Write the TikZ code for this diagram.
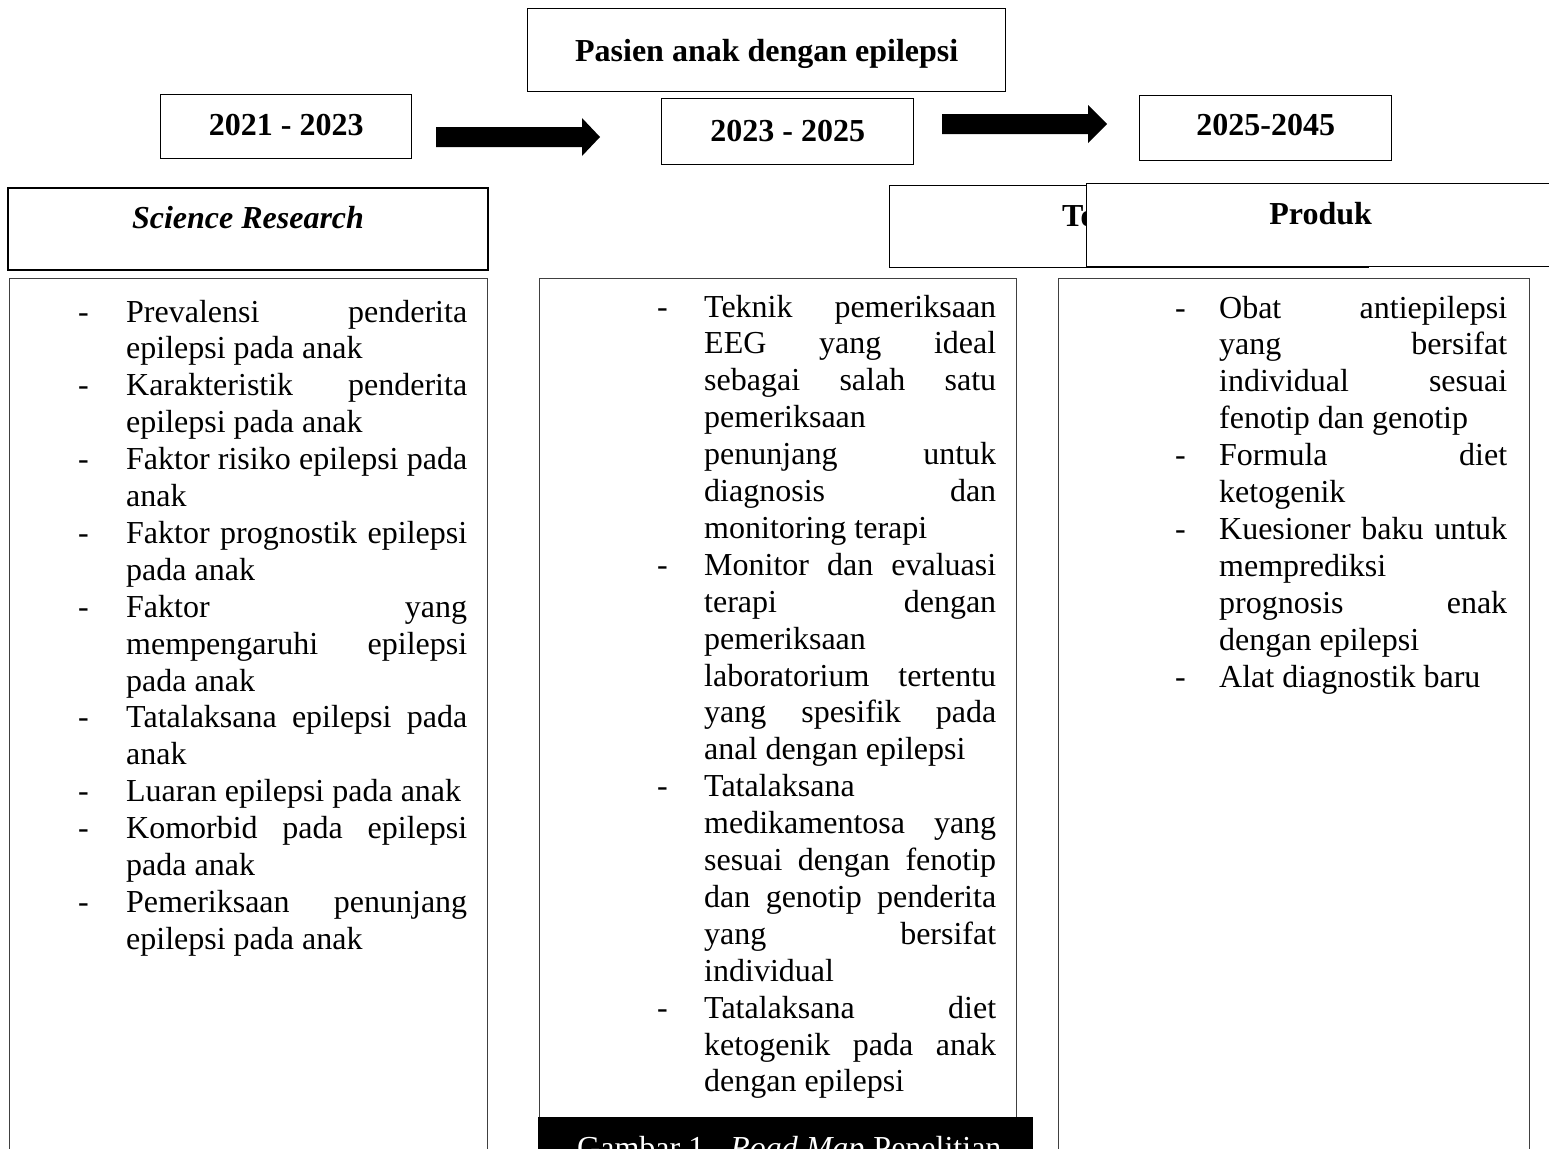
\documentclass[tikz,border=0pt]{standalone}
\usepackage{fontspec}
\setmainfont{Liberation Serif}
\usetikzlibrary{positioning}
\newcommand\txtsize{\fontsize{32}{36.9}\selectfont}
\newlength\colw
\newlength\dashw
\newcommand\dashj[1]{\hbox{\hbox to\dashw{-\hfil}\hbox to\colw{\spaceskip=.25em plus 1fil minus .05em\relax #1}}}
\newcommand\dashl[1]{\hbox{\hbox to\dashw{-\hfil}\hbox to\colw{#1\hfil}}}
\newcommand\contj[1]{\hbox{\hskip\dashw\hbox to\colw{\spaceskip=.25em plus 1fil minus .05em\relax #1}}}
\newcommand\contl[1]{\hbox{\hskip\dashw\hbox to\colw{#1\hfil}}}
\tikzset{
    hdr/.style={
    rectangle,draw=black,fill=white,line width=1.4pt,inner sep=0pt,anchor=north west,font=\txtsize\bfseries
    },
    colbox/.style={
    rectangle,draw=black!75,line width=1.4pt,inner sep=0pt,anchor=north west
    },
    coltxt/.style={
    inner sep=0pt,anchor=base west,font=\txtsize
    },
    blockarr/.style={
    fill=black
    },
}
\begin{document}
\begin{tikzpicture}[x=1pt,y=-1pt]
   \useasboundingbox (0,0) rectangle (1549,1148);
   \clip (0,0) rectangle (1549,1148);
   % top row
   \node[hdr,minimum width=478pt,text height=53pt,text depth=30pt] (pasien) at (527,8) {Pasien anak dengan epilepsi};
   \node[hdr,minimum width=251pt,text height=41pt,text depth=23pt] (yr1) at (160,94) {2021 - 2023};
   \node[hdr,minimum width=252pt,text height=43pt,text depth=23pt] (yr2) at (661,98) {2023 - 2025};
   \node[hdr,minimum width=252pt,text height=40pt,text depth=25pt] (yr3) at (1139,95) {2025-2045};
   \fill[blockarr] (436,127) -- (582,127) -- (582,118) -- (600,137) -- (582,156) -- (582,147) -- (436,147) -- cycle;
   \fill[blockarr] (942,114) -- (1088,114) -- (1088,105) -- (1107,124) -- (1088,143) -- (1088,134) -- (942,134) -- cycle;
   % headings
   \node[hdr,line width=2pt,minimum width=480pt,text height=40pt,text depth=42pt] (science) at (7,187) {\textit{Science Research}};
   \node[hdr,minimum width=479pt,text height=41pt,text depth=41pt] (tekno) at (889,185) {Teknologi};
   \node[hdr,minimum width=468pt,text height=41pt,text depth=42pt] (produk) at (1086,183) {Produk};
   % columns
   \node[colbox,minimum width=478pt,minimum height=890pt] (leftbox) at (9,278) {};
   \node[colbox,minimum width=477pt,minimum height=850pt] (midbox) at (539,278) {};
   \node[colbox,minimum width=471pt,minimum height=890pt] (rightbox) at (1058,278) {};
   \node[coltxt] (lefttxt) at (78,322) {\setlength\dashw{48pt}\setlength\colw{341pt}\vtop{\baselineskip=36.9pt\lineskiplimit=-100pt
      \dashj{Prevalensi penderita}
      \contl{epilepsi pada anak}
      \dashj{Karakteristik penderita}
      \contl{epilepsi pada anak}
      \dashj{Faktor risiko epilepsi pada}
      \contl{anak}
      \dashj{Faktor prognostik epilepsi}
      \contl{pada anak}
      \dashj{Faktor yang}
      \contj{mempengaruhi epilepsi}
      \contl{pada anak}
      \dashj{Tatalaksana epilepsi pada}
      \contl{anak}
      \dashl{Luaran epilepsi pada anak}
      \dashj{Komorbid pada epilepsi}
      \contl{pada anak}
      \dashj{Pemeriksaan penunjang}
      \contl{epilepsi pada anak}}};
   \node[coltxt] (midtxt) at (657,317) {\setlength\dashw{47pt}\setlength\colw{292pt}\vtop{\baselineskip=36.9pt\lineskiplimit=-100pt
      \dashj{Teknik pemeriksaan}
      \contj{EEG yang ideal}
      \contj{sebagai salah satu}
      \contl{pemeriksaan}
      \contj{penunjang untuk}
      \contj{diagnosis dan}
      \contl{monitoring terapi}
      \dashj{Monitor dan evaluasi}
      \contj{terapi dengan}
      \contl{pemeriksaan}
      \contj{laboratorium tertentu}
      \contj{yang spesifik pada}
      \contl{anal dengan epilepsi}
      \dashl{Tatalaksana}
      \contj{medikamentosa yang}
      \contj{sesuai dengan fenotip}
      \contj{dan genotip penderita}
      \contj{yang bersifat}
      \contl{individual}
      \dashj{Tatalaksana diet}
      \contj{ketogenik pada anak}
      \contl{dengan epilepsi}}};
   \node[coltxt] (righttxt) at (1175,318) {\setlength\dashw{44pt}\setlength\colw{288pt}\vtop{\baselineskip=36.9pt\lineskiplimit=-100pt
      \dashj{Obat antiepilepsi}
      \contj{yang bersifat}
      \contj{individual sesuai}
      \contl{fenotip dan genotip}
      \dashj{Formula diet}
      \contl{ketogenik}
      \dashj{Kuesioner baku untuk}
      \contl{memprediksi}
      \contj{prognosis enak}
      \contl{dengan epilepsi}
      \dashl{Alat diagnostik baru}}};
   % caption strip
   \node[rectangle,fill=black,inner sep=0pt,anchor=north west,minimum width=495pt,minimum height=60pt] (captbox) at (538,1117) {};
   \node[coltxt,text=white] (capt) at (577,1158) {Gambar 1.\hspace{18pt}\textit{Road Map}\hspace{9pt}Penelitian};
\end{tikzpicture}
\end{document}
